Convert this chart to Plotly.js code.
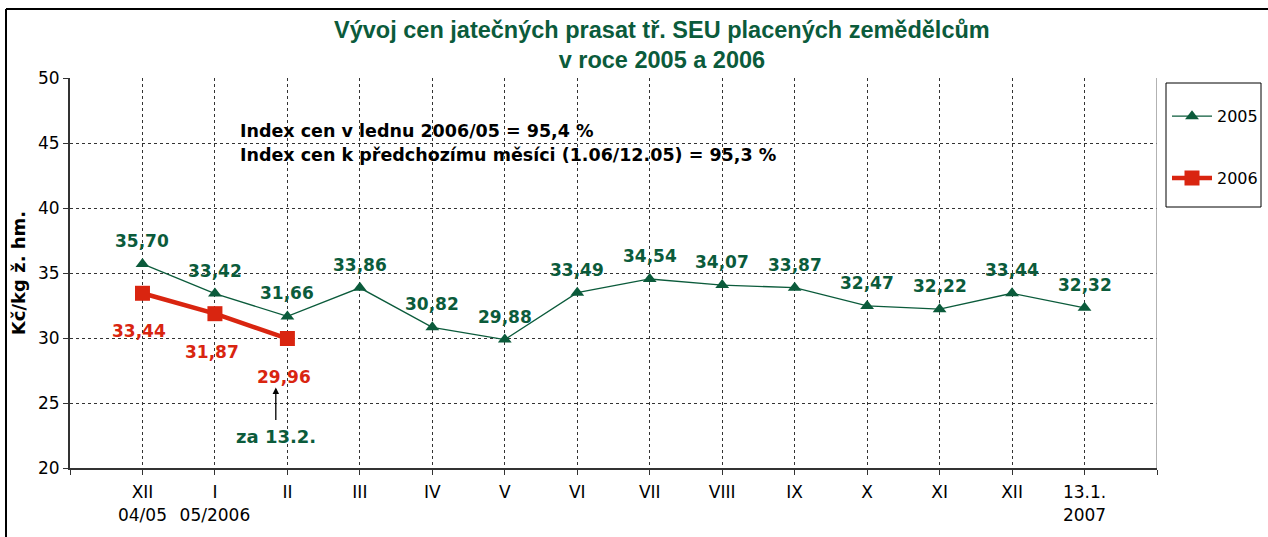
<!DOCTYPE html>
<html><head><meta charset="utf-8">
<script src="https://cdn.plot.ly/plotly-3.0.1.min.js"></script>
<style>html,body{margin:0;padding:0;background:#fff;}#chart{width:1268px;height:537px;}</style>
</head><body><div id="chart"></div>
<script>
const categories = ['XII<br>04/05','I<br>05/2006','II','III','IV','V','VI','VII','VIII','IX','X','XI','XII','13.1.<br>2007'];
const values2005 = [35.70,33.42,31.66,33.86,30.82,29.88,33.49,34.54,34.07,33.87,32.47,32.22,33.44,32.32];
const values2006 = [33.44,31.87,29.96];
const yTicks = [20,25,30,35,40,45,50];

const GREEN = '#0b5b3b';
const RED = '#d92510';
const idx = categories.map((c,i)=>i);
const fmt = v => v.toFixed(2).replace('.', ',');

const traces = [
  {x: idx, y: values2005, name: '2005', mode: 'lines+markers', legendgroup: 'a',
   line: {color: GREEN, width: 1.3}, marker: {symbol: 'triangle-up', size: 12, color: GREEN}},
  {x: idx.slice(0, values2006.length), y: values2006, name: '2006', mode: 'lines+markers', legendgroup: 'b',
   line: {color: RED, width: 4.5}, marker: {symbol: 'square', size: 15, color: RED}}
];

const annotations = [];
values2005.forEach((v,i)=>annotations.push({x: i, y: v, xref:'x', yref:'y', text: fmt(v), showarrow:false,
  yshift: 23, font:{family:'DejaVu Sans', size:17, color:GREEN, weight:'bold'}}));
values2006.forEach((v,i)=>annotations.push({x: i, y: v, xref:'x', yref:'y', text: fmt(v), showarrow:false,
  yshift: -38, xshift: -3, font:{family:'DejaVu Sans', size:17, color:RED, weight:'bold'}}));
annotations.push({xref:'paper', yref:'y', x:0.1546, y:45.92, xanchor:'left', yanchor:'middle', showarrow:false,
  text:'Index cen v lednu 2006/05 = 95,4 %', font:{family:'DejaVu Sans', size:17.5, color:'#000', weight:'bold'}});
annotations.push({xref:'paper', yref:'y', x:0.1546, y:44.08, xanchor:'left', yanchor:'middle', showarrow:false,
  text:'Index cen k předchozímu měsíci (1.06/12.05) = 95,3 %', font:{family:'DejaVu Sans', size:17.5, color:'#000', weight:'bold'}});
annotations.push({xref:'x', yref:'y', x:1.84, y:26.2, ax:0, ay:34, text:'', showarrow:true, arrowhead:2, arrowsize:1, arrowwidth:1.3, arrowcolor:'#000'});
annotations.push({xref:'x', yref:'y', x:1.84, y:22.4, showarrow:false, text:'za 13.2.',
  font:{family:'DejaVu Sans', size:18, color:GREEN, weight:'bold'}});

const layout = {
  width: 1268, height: 537,
  margin: {l:70, r:111, t:78, b:69},
  paper_bgcolor:'#fff', plot_bgcolor:'#fff',
  title: {text:'Vývoj cen jatečných prasat tř. SEU placených zemědělcům<br>v roce 2005 a 2006',
    x: 0.522, xanchor:'center', xref:'container', y: 0.93, yref:'container', yanchor:'top',
    font:{family:'Liberation Sans Narrow, Liberation Sans', size:23.5, color:GREEN, weight:'bold'}},
  xaxis: {range:[-1,14], tickmode:'array', tickvals:[-1].concat(idx, [14]), ticktext:[''].concat(categories, ['']),
    showgrid:true, gridcolor:'#333', griddash:'3px,3px', gridwidth:1,
    showline:true, linecolor:'#333', linewidth:2, ticks:'outside', ticklen:5, tickcolor:'#333',
    ticklabelstandoff:3,
    tickfont:{family:'DejaVu Sans', size:17, color:'#000'}, zeroline:false, automargin:false},
  yaxis: {range:[20,50], tickmode:'array', tickvals:yTicks, ticktext:yTicks.map(String),
    showgrid:true, gridcolor:'#333', griddash:'3px,3px', gridwidth:1,
    showline:true, linecolor:'#333', linewidth:2, ticks:'outside', ticklen:5, tickcolor:'#333',
    tickfont:{family:'DejaVu Sans', size:17, color:'#000'}, zeroline:false, automargin:false,
    title:{text:'Kč/kg ž. hm.', standoff:8, font:{family:'DejaVu Sans', size:18, color:'#000', weight:'bold'}}},
  showlegend: true,
  legend: {xref:'container', yref:'container', x:1167/1268, xanchor:'left', y:1-99.3/537, yanchor:'top',
    bgcolor:'rgba(0,0,0,0)', borderwidth:0,
    itemwidth:40, tracegroupgap:38, traceorder:'grouped',
    font:{family:'DejaVu Sans', size:16, color:'#000'}},
  shapes: [
    {type:'line', xref:'x', yref:'y', x0:14, x1:14, y0:20, y1:50, line:{color:'#999', width:1.5}},
    {type:'rect', xref:'paper', yref:'paper', x0:(1166-70)/1087, x1:(1261-70)/1087, y0:(468-207)/390, y1:(468-83)/390,
     line:{color:'#000', width:1}},
    {type:'line', xref:'paper', yref:'paper', x0:(6-70)/1087, x1:(1268-70)/1087, y0:(468-9)/390, y1:(468-9)/390, line:{color:'#000', width:2}},
    {type:'line', xref:'paper', yref:'paper', x0:(6-70)/1087, x1:(6-70)/1087, y0:(468-9)/390, y1:(468-540)/390, line:{color:'#000', width:2}}
  ],
  annotations: annotations
};

Plotly.newPlot('chart', traces, layout, {displayModeBar:false, staticPlot:true});
</script></body></html>
